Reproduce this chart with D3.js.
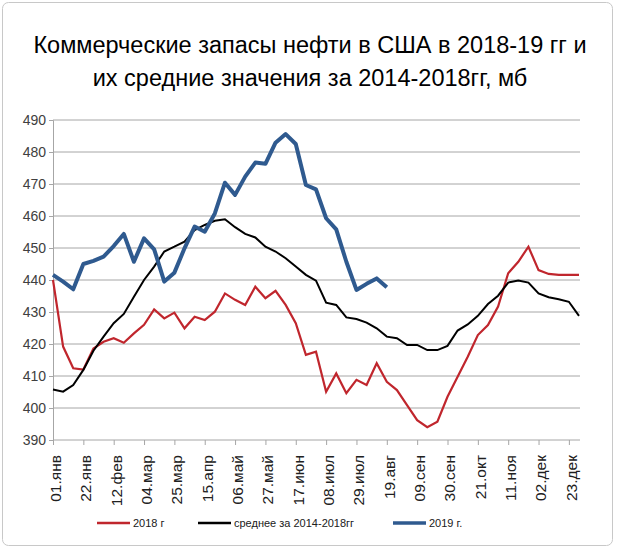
<!DOCTYPE html>
<html><head><meta charset="utf-8">
<script src="https://cdn.jsdelivr.net/npm/d3@7"></script>
<style>body{margin:0;background:#fff}</style></head>
<body><svg id="c" width="620" height="555"></svg>
<script>
const labels=["01.янв","22.янв","12.фев","04.мар","25.мар","15.апр","06.май","27.май","17.июн","08.июл","29.июл","19.авг","09.сен","30.сен","21.окт","11.ноя","02.дек","23.дек"];
const yTicks=[390,400,410,420,430,440,450,460,470,480,490];
const s2018=[440,419.2,412.4,412,418.6,420.7,421.8,420.4,423.3,426,430.8,428,429.8,424.9,428.5,427.5,430.1,435.8,433.8,432.2,437.9,434.3,436.6,432.2,426.5,416.6,417.6,405.1,410.8,404.6,408.8,407.2,414,408.2,405.6,400.9,396.2,394,395.7,403.5,409.8,416,422.8,425.9,431.7,442.1,445.7,450.4,443.1,441.9,441.6,441.6,441.6];
const sAvg=[405.8,405.1,407.2,411.9,417.9,422.3,426.5,429.4,434.8,440,444.2,448.9,450.4,452,455.6,457.2,458.5,459,456.5,454.4,453.3,450.4,448.9,446.8,444.2,441.6,439.8,432.9,432.2,428.3,427.8,426.7,424.9,422.3,421.8,419.7,419.7,418.1,418.1,419.4,424.2,426.1,428.8,432.5,435.1,439.2,439.8,439.2,435.8,434.6,434,433.2,428.8];
const s2019=[441.6,439.5,437.1,445,446,447.3,450.6,454.4,445.7,453,449.6,439.5,442.3,449.9,456.7,455.1,460.8,470.4,466.6,472.3,476.7,476.3,482.9,485.6,482.5,469.7,468.3,459.3,455.8,445.7,436.9,438.8,440.5,437.7];
const svg=d3.select("#c");
svg.append("rect").attr("x",2.5).attr("y",2.5).attr("width",610).attr("height",543).attr("rx",6).attr("fill","#fff").attr("stroke","#c8c8c8");
const f="'Liberation Sans',Arial,sans-serif";
svg.append("text").attr("x",310).attr("y",53).attr("text-anchor","middle").attr("font-family",f).attr("font-size",23.5).text("Коммерческие запасы нефти в США в 2018-19 гг и");
svg.append("text").attr("x",310).attr("y",86).attr("text-anchor","middle").attr("font-family",f).attr("font-size",23.5).text("их средние значения за  2014-2018гг, мб");
const x=d3.scaleLinear().domain([0,52]).range([53,579]);
const y=d3.scaleLinear().domain([390,490]).range([440,120]);
const g=svg.append("g");
g.selectAll("line.gr").data(yTicks.slice(1)).join("line").attr("x1",53).attr("x2",580).attr("y1",d=>y(d)).attr("y2",d=>y(d)).attr("stroke","#a6a6a6");
const ya=svg.append("g").attr("transform","translate(53,0)").call(d3.axisLeft(y).tickValues(yTicks).tickSize(4).tickFormat(d3.format("d")));
ya.selectAll("text").attr("font-family",f).attr("font-size",14).attr("fill","#404040");
const xa=svg.append("g").attr("transform","translate(0,440)").call(d3.axisBottom(x).tickValues(d3.range(0,52,3)).tickSize(5).tickFormat(d=>labels[d/3]));
xa.select(".domain").attr("d","M53,0H580");
svg.selectAll(".domain").attr("stroke","#a6a6a6");
svg.selectAll(".tick line").attr("stroke","#a6a6a6");
xa.selectAll("text").attr("font-family",f).attr("font-size",15.5).attr("fill","#202020").attr("transform","rotate(-90)").attr("text-anchor","end").attr("x",-15).attr("y",2).attr("dy","0.35em");
const ln=d3.line().x((d,i)=>x(i)).y(d=>y(d));
svg.append("path").attr("d",ln(s2018)).attr("fill","none").attr("stroke","#c0262d").attr("stroke-width",2.2);
svg.append("path").attr("d",ln(sAvg)).attr("fill","none").attr("stroke","#000").attr("stroke-width",2);
svg.append("path").attr("d",ln(s2019)).attr("fill","none").attr("stroke","#2f5a8f").attr("stroke-width",4).attr("stroke-linejoin","round");
const leg=[["2018 г","#c0262d",97,2.5],["среднее за 2014-2018гг","#000",198,2.5],["2019 г.","#2f5a8f",393,3.5]];
leg.forEach(([t,c,lx,w])=>{svg.append("line").attr("x1",lx).attr("x2",lx+33).attr("y1",523).attr("y2",523).attr("stroke",c).attr("stroke-width",w);
svg.append("text").attr("x",lx+36).attr("y",527).attr("font-family",f).attr("font-size",11).attr("fill","#202020").text(t);});
</script></body></html>
